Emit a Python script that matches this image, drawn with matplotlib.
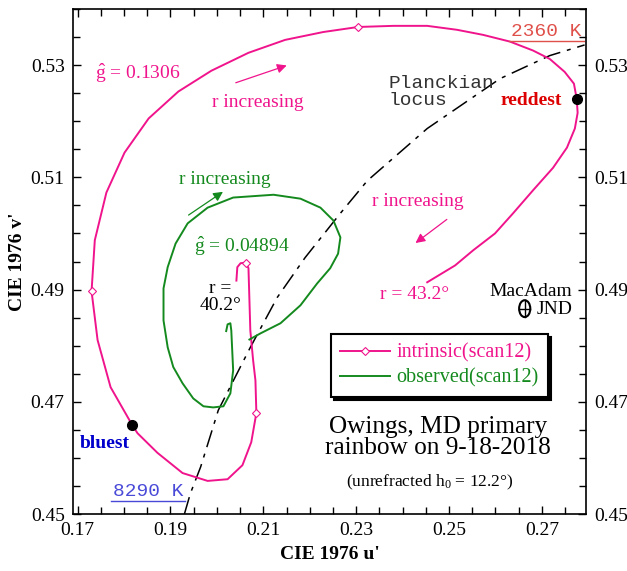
import matplotlib
matplotlib.use('Agg')
import matplotlib.pyplot as plt
from matplotlib.patches import Ellipse
from matplotlib.ticker import MultipleLocator

plt.rcParams['font.family'] = ['Liberation Serif', 'DejaVu Serif']
plt.rcParams['mathtext.fontset'] = 'custom'
plt.rcParams['mathtext.rm'] = 'Liberation Serif'
plt.rcParams['mathtext.it'] = 'Liberation Serif:italic'

PINK = '#f0148c'
GREEN = '#148a1e'
FS = 14

# intrinsic rainbow chromaticities (scan12), ordered by increasing r
intr_u = [0.2042, 0.2044, 0.2051, 0.2063, 0.2068, 0.2072, 0.2078, 0.2083, 0.2085, 0.2074,
          0.2055, 0.2023, 0.1980, 0.1926, 0.1872, 0.1829, 0.1818, 0.1771, 0.1743, 0.1730,
          0.1737, 0.1762, 0.1801, 0.1853, 0.1917, 0.1988, 0.2068, 0.2147, 0.2229, 0.2304,
          0.2380, 0.2453, 0.2517, 0.2573, 0.2631, 0.2681, 0.2717, 0.2749, 0.2769, 0.2775,
          0.2777, 0.2771, 0.2754, 0.2724, 0.2681, 0.2638, 0.2599, 0.2552, 0.2513, 0.2453]
intr_v = [0.4916, 0.4940, 0.4947, 0.4948, 0.4938, 0.4827, 0.4774, 0.4738, 0.4680, 0.4628,
          0.4587, 0.4562, 0.4559, 0.4573, 0.4609, 0.4644, 0.4658, 0.4726, 0.4810, 0.4897,
          0.4988, 0.5073, 0.5144, 0.5205, 0.5253, 0.5290, 0.5322, 0.5345, 0.5359, 0.5368,
          0.5370, 0.5370, 0.5363, 0.5354, 0.5342, 0.5326, 0.5311, 0.5288, 0.5267, 0.5240,
          0.5215, 0.5187, 0.5153, 0.5117, 0.5077, 0.5036, 0.5000, 0.4970, 0.4943, 0.4913]
intr_marks = [3, 8, 19, 29]

# observed rainbow chromaticities (scan12)
obs_u = [0.2020, 0.2023, 0.2029, 0.2031, 0.2035, 0.2029, 0.2014, 0.1992, 0.1971, 0.1949,
         0.1926, 0.1906, 0.1894, 0.1885, 0.1885, 0.1894, 0.1911, 0.1937, 0.1980, 0.2035,
         0.2122, 0.2180, 0.2223, 0.2251, 0.2266, 0.2261, 0.2244, 0.2216, 0.2180, 0.2137,
         0.2094, 0.2070]
obs_v = [0.4826, 0.4838, 0.4840, 0.4827, 0.4756, 0.4715, 0.4692, 0.4690, 0.4692, 0.4706,
         0.4733, 0.4762, 0.4797, 0.4845, 0.4902, 0.4940, 0.4982, 0.5018, 0.5046, 0.5064,
         0.5069, 0.5062, 0.5046, 0.5023, 0.4993, 0.4964, 0.4938, 0.4911, 0.4872, 0.4840,
         0.4822, 0.4811]

# Planckian locus, 8290 K -> 2360 K
planck_u = [0.1930, 0.1943, 0.1965, 0.2003, 0.2072, 0.2130, 0.2190, 0.2266, 0.2324,
            0.2453, 0.2610, 0.2717, 0.2792]
planck_v = [0.4500, 0.4537, 0.4584, 0.4685, 0.4797, 0.4886, 0.4957, 0.5036, 0.5094,
            0.5187, 0.5276, 0.5317, 0.5336]

reddest = (0.2775, 0.5240)
bluest = (0.1818, 0.4658)
jnd_center = (0.2663, 0.4866)
jnd_size = (0.0024, 0.0030)

fig = plt.figure(figsize=(6.27, 5.71), dpi=100)
ax = fig.add_axes([0.1164, 0.0998, 0.8182, 0.8844])

ax.plot(planck_u, planck_v, color='black', lw=1.1, dashes=(11.5, 4.5, 2.6, 4.5))
ax.plot(intr_u, intr_v, color=PINK, lw=1.4, marker='D', markersize=4.5,
        markerfacecolor='white', markeredgewidth=0.8, markevery=intr_marks,
        label='intrinsic(scan12)')
ax.plot(obs_u, obs_v, color=GREEN, lw=1.4, label='observed(scan12)')
ax.plot(*reddest, 'o', color='black', markersize=7)
ax.plot(*bluest, 'o', color='black', markersize=7)

ax.set_xlim(0.169, 0.2795)
ax.set_ylim(0.45, 0.54)
ax.xaxis.set_minor_locator(MultipleLocator(0.005))
ax.yaxis.set_minor_locator(MultipleLocator(0.005))
ax.set_xticks([0.17, 0.19, 0.21, 0.23, 0.25, 0.27])
ax.set_yticks([0.45, 0.47, 0.49, 0.51, 0.53])
ax.tick_params(which='both', direction='in', top=True, right=True, labelright=True,
               labelsize=FS, width=1)
ax.tick_params(which='major', length=6, pad=6)
ax.tick_params(which='minor', length=5)
for s in ax.spines.values():
    s.set_linewidth(1.2)

ax.set_xlabel("CIE 1976 u'", fontsize=FS, fontweight='bold', labelpad=5)
ax.set_ylabel("CIE 1976 v'", fontsize=FS, fontweight='bold', labelpad=3)

# annotations
ax.text(0.1829, 0.5285, r'$\hat{\mathrm{g}}$ = 0.1306', color=PINK, fontsize=FS,
        ha='center', va='center')
ax.text(0.2089, 0.5233, 'r increasing', color=PINK, fontsize=FS, ha='center', va='center')
ax.annotate('', xy=(0.2156, 0.5301), xytext=(0.2035, 0.5267),
            arrowprops=dict(arrowstyle='-|>', color=PINK, lw=0.9, mutation_scale=14))
ax.text(0.2016, 0.5096, 'r increasing', color=GREEN, fontsize=FS, ha='center', va='center')
ax.annotate('', xy=(0.2018, 0.5077), xytext=(0.1934, 0.5030),
            arrowprops=dict(arrowstyle='-|>', color=GREEN, lw=0.9, mutation_scale=14))
ax.text(0.2433, 0.5057, 'r increasing', color=PINK, fontsize=FS, ha='center', va='center')
ax.annotate('', xy=(0.2423, 0.4980), xytext=(0.2500, 0.5028),
            arrowprops=dict(arrowstyle='-|>', color=PINK, lw=0.9, mutation_scale=14))
ax.text(0.2053, 0.4977, r'$\hat{\mathrm{g}}$ = 0.04894', color=GREEN, fontsize=FS,
        ha='center', va='center')
ax.text(0.2008, 0.4887, 'r =\n40.2°', color='black', fontsize=FS, ha='center', va='center',
        linespacing=0.95)
ax.text(0.2425, 0.4891, 'r = 43.2°', color=PINK, fontsize=FS, ha='center', va='center')

ax.text(0.2786, 0.5345, '2360 K', color='#e0504a', fontsize=FS, family='Liberation Mono',
        ha='right', va='bottom')
ax.plot([0.2629, 0.2790], [0.5343, 0.5343], color='#e0504a', lw=1)
ax.text(0.1777, 0.4525, '8290 K', color='#4a4ad8', fontsize=FS, family='Liberation Mono',
        ha='left', va='bottom')
ax.plot([0.1772, 0.1932], [0.4523, 0.4523], color='#4a4ad8', lw=1)
ax.text(0.2369, 0.5253, 'Planckian\nlocus', color='#333333', fontsize=FS,
        family='Liberation Mono', ha='left', va='center', linespacing=1.0)

ax.text(0.2743, 0.5237, 'reddest', color='#dd0000', fontsize=FS, fontweight='bold',
        ha='right', va='center')
ax.text(0.1758, 0.4626, 'bluest', color='#0000cc', fontsize=FS, fontweight='bold',
        ha='center', va='center')

# MacAdam just-noticeable-difference ellipse
ax.text(0.2765, 0.4896, 'MacAdam', fontsize=FS, ha='right', va='center')
ax.add_patch(Ellipse(jnd_center, jnd_size[0], jnd_size[1], fill=False, lw=1.5,
                     edgecolor='black'))
ax.plot([jnd_center[0] - jnd_size[0] / 2, jnd_center[0] + jnd_size[0] / 2],
        [jnd_center[1]] * 2, color='black', lw=1)
ax.plot([jnd_center[0]] * 2,
        [jnd_center[1] - jnd_size[1] / 2, jnd_center[1] + jnd_size[1] / 2],
        color='black', lw=1)
ax.text(0.2689, 0.4864, 'JND', fontsize=FS, ha='left', va='center')

ax.text(0.2476, 0.4637, 'Owings, MD primary\nrainbow on 9-18-2018', fontsize=18.2,
        ha='center', va='center', linespacing=0.95)
ax.text(0.2459, 0.4557, r'(unrefracted $\mathrm{h}_0$ = 12.2°)', fontsize=12.5,
        ha='center', va='center')

leg = ax.legend(loc='upper left', bbox_to_anchor=(0.503, 0.356), fontsize=14.5,
                labelcolor='linecolor', frameon=True, fancybox=False, framealpha=1,
                edgecolor='black', handlelength=2.5, handletextpad=0.3,
                borderpad=0.45, borderaxespad=0, labelspacing=0.3,
                shadow={'color': 'black', 'alpha': 1})
leg.get_frame().set_linewidth(1.5)

fig.savefig('out.png', dpi=100)
